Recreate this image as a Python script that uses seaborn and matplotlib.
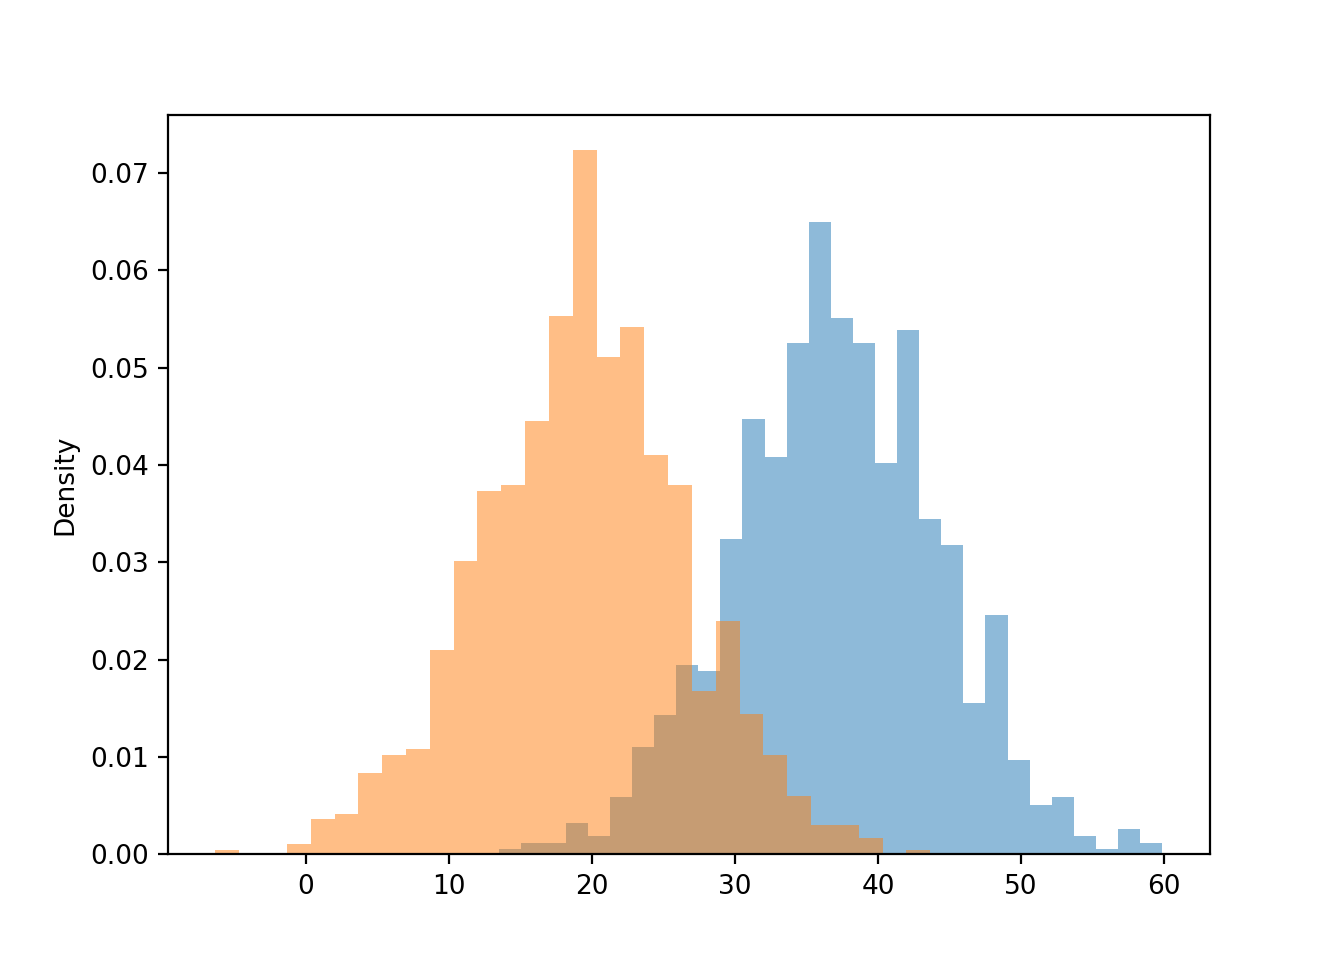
import numpy as np
import pandas as pd
import matplotlib
matplotlib.use('Agg')
import matplotlib.pyplot as plt
import seaborn as sns

plt.rcParams['font.size'] = 9.5

# bin ranges (30 bins each)
blue_range = (13.53, 59.88)
orange_range = (-6.33, 43.66)

# density of each bin, left to right
blue_density = [0.0006, 0.0012, 0.0012, 0.0032, 0.0019, 0.0059, 0.0110, 0.0143,
                0.0194, 0.0188, 0.0324, 0.0447, 0.0408, 0.0525, 0.0649, 0.0551,
                0.0525, 0.0402, 0.0539, 0.0344, 0.0318, 0.0155, 0.0246, 0.0097,
                0.0051, 0.0059, 0.0019, 0.0006, 0.0026, 0.0012]
orange_density = [0.0005, 0.0, 0.0, 0.0011, 0.0036, 0.0042, 0.0084, 0.0102,
                  0.0108, 0.0210, 0.0301, 0.0373, 0.0379, 0.0445, 0.0553, 0.0723,
                  0.0511, 0.0542, 0.0410, 0.0379, 0.0168, 0.0240, 0.0144, 0.0102,
                  0.0060, 0.0030, 0.0030, 0.0017, 0.0, 0.0005]

fig, ax = plt.subplots(figsize=(6.72, 4.8), dpi=200)

for rng, dens, col in [(blue_range, blue_density, 'C0'),
                       (orange_range, orange_density, 'C1')]:
    edges = np.linspace(rng[0], rng[1], len(dens) + 1).tolist()
    centers = [(a + b) / 2 for a, b in zip(edges[:-1], edges[1:])]
    df = pd.DataFrame({'x': centers, 'w': dens})
    sns.histplot(data=df, x='x', weights='w', bins=edges, stat='count',
                 color=col, alpha=0.5, linewidth=0, ax=ax)

ax.set_xlabel('')
ax.set_ylabel('Density')
fig.savefig('out.png', dpi=200)
